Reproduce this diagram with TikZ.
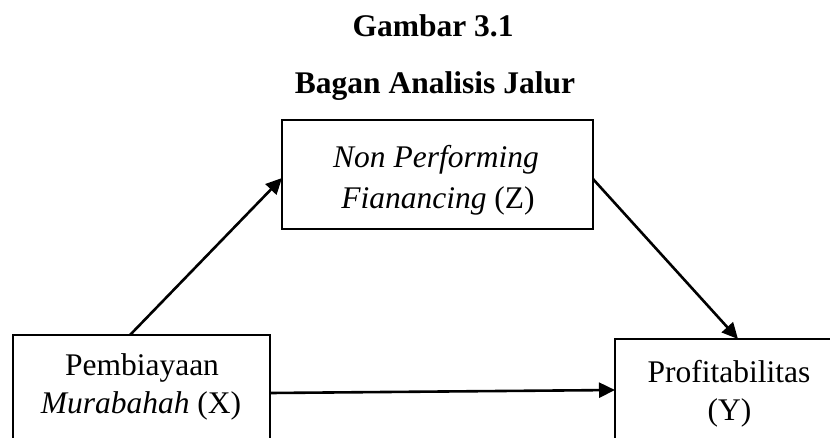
\documentclass[tikz,border=0pt]{standalone}
\usepackage{fontspec}
\setmainfont{Liberation Serif}
\usetikzlibrary{arrows.meta}
\begin{document}
\begin{tikzpicture}[x=1pt,y=-1pt,
  box/.style={draw=black,line width=2.8pt,rectangle,inner sep=0pt,outer sep=0pt},
  txt/.style={inner sep=0pt,anchor=base,font=\fontsize{31.5}{36}\selectfont},
  ttl/.style={inner sep=0pt,anchor=base,font=\fontsize{31.5}{36}\selectfont\bfseries},
  arr/.style={line width=2.6pt,-{Triangle[length=16pt,width=15pt]}}]
\useasboundingbox (0,0) rectangle (830,437);
\clip (0,0) rectangle (830,437);
\node[ttl] (t1) at (433,36) {Gambar 3.1};
\node[ttl] (t2) at (435,93) {Bagan Analisis Jalur};
\node[box,minimum width=311pt,minimum height=109pt] (Z) at (437.5,174.5) {};
\node[box,minimum width=257pt,minimum height=125pt] (X) at (141.5,397.5) {};
\node[box,minimum width=228pt,minimum height=125pt] (Y) at (729,401.5) {};
\node[txt] (z1) at (436,167) {\textit{Non Performing}};
\node[txt] (z2) at (438,208) {\textit{Fianancing} (Z)};
\node[txt] (x1) at (142,375) {Pembiayaan};
\node[txt] (x2) at (141,413) {\textit{Murabahah} (X)};
\node[txt] (y1) at (729,382) {Profitabilitas};
\node[txt] (y2) at (729.5,420) {(Y)};
\draw[arr] ([xshift=-11.5pt]X.north) -- ([yshift=-3.5pt]Z.west);
\draw[arr] ([yshift=-4.5pt]Z.east) -- ([xshift=9pt]Y.north);
\draw[arr] ([yshift=4.5pt]X.east) -- ([yshift=11.5pt]Y.west);
\end{tikzpicture}
\end{document}
